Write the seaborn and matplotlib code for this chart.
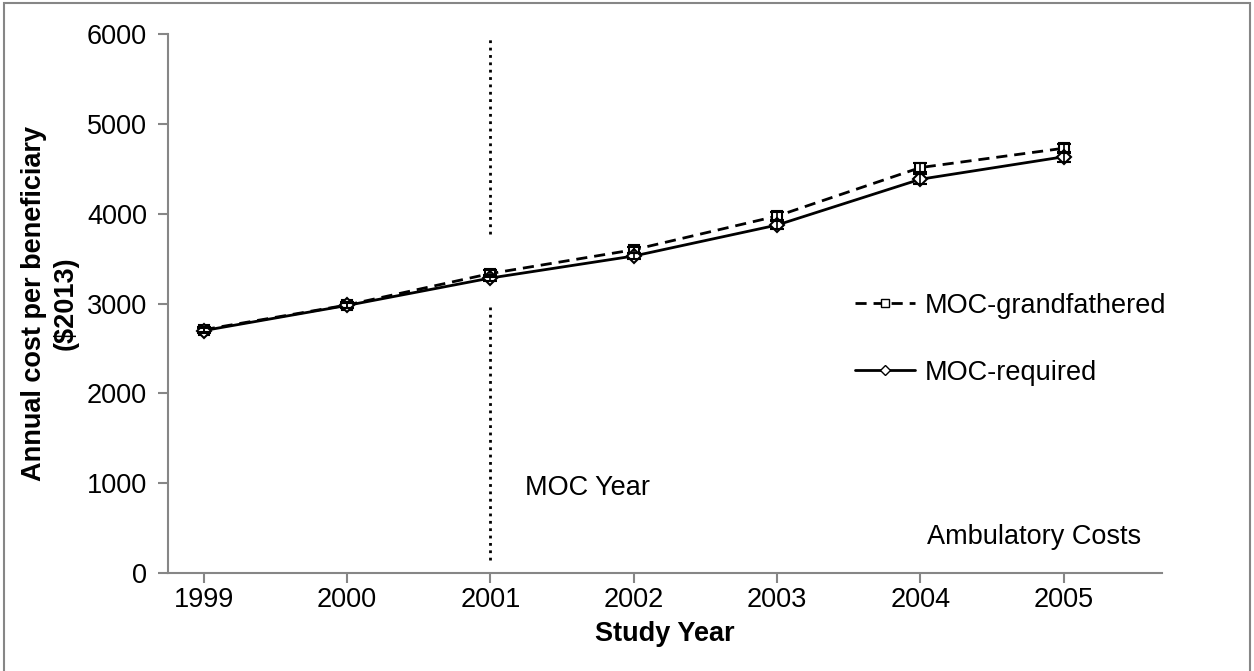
import numpy as np
import pandas as pd
import matplotlib
matplotlib.use("Agg")
import matplotlib.pyplot as plt
import seaborn as sns
from matplotlib.lines import Line2D
from matplotlib.patches import Rectangle

years = [1999, 2000, 2001, 2002, 2003, 2004, 2005]
grandfathered = [2710, 2985, 3335, 3600, 3975, 4515, 4730]
required = [2700, 2980, 3285, 3530, 3875, 4385, 4635]
grand_err = [30, 30, 35, 35, 40, 50, 50]
req_err = [30, 30, 35, 35, 40, 55, 55]
moc_year = 2001

sns.set_theme(style="white")
plt.rcParams["font.family"] = ["Liberation Sans", "DejaVu Sans"]
plt.rcParams["text.color"] = "black"
plt.rcParams["axes.labelcolor"] = "black"

FS = 19.5

df = pd.DataFrame({
    "year": years * 2,
    "cost": grandfathered + required,
    "group": ["MOC-grandfathered"] * 7 + ["MOC-required"] * 7,
})

fig = plt.figure(figsize=(12.54, 6.71), dpi=100)
ax = fig.add_axes([0.134, 0.146, 0.793, 0.803])

sns.lineplot(data=df, x="year", y="cost", style="group", ax=ax, color="black",
             linewidth=2, dashes={"MOC-grandfathered": (4, 2.5), "MOC-required": ""},
             markers={"MOC-grandfathered": "s", "MOC-required": "D"},
             markersize=7, markerfacecolor="white", markeredgecolor="black",
             markeredgewidth=1.5, legend=False)
ax.errorbar(years, grandfathered, yerr=grand_err, fmt="none", ecolor="black",
            elinewidth=1.2, capsize=5, capthick=1.5)
ax.errorbar(years, required, yerr=req_err, fmt="none", ecolor="black",
            elinewidth=1.2, capsize=5, capthick=1.5)

# dotted MOC year line, split where the series pass
ax.plot([moc_year, moc_year], [3780, 5970], color="black", linestyle=":", linewidth=2)
ax.plot([moc_year, moc_year], [145, 2960], color="black", linestyle=":", linewidth=2)

ax.text(moc_year + 0.24, 950, "MOC Year", fontsize=FS, va="center", ha="left")
ax.text(6.54 + 1999, 400, "Ambulatory Costs", fontsize=FS, va="center", ha="right")

ax.set_xlim(1999 - 0.25, 2005 + 0.69)
ax.set_ylim(0, 6000)
ax.set_xticks(years)
ax.set_xticklabels([str(y) for y in years])
ax.set_yticks(range(0, 6001, 1000))
ax.tick_params(axis="both", labelsize=FS, colors="#868686", labelcolor="black",
               direction="out", length=7, width=1.5, bottom=True, left=True)
ax.tick_params(axis="y", pad=8)
ax.tick_params(axis="x", pad=3)
ax.set_xlabel("Study Year", fontsize=FS, fontweight="bold", labelpad=6)
ax.set_ylabel("Annual cost per beneficiary\n($2013)", fontsize=FS, fontweight="bold",
              labelpad=6, linespacing=1.3)
for side in ["top", "right"]:
    ax.spines[side].set_visible(False)
for side in ["left", "bottom"]:
    ax.spines[side].set_color("#868686")
    ax.spines[side].set_linewidth(1.5)

handles = [
    Line2D([], [], color="black", linestyle=(0, (4, 2.5)), linewidth=2, marker="s",
           markersize=6, markerfacecolor="white", markeredgecolor="black"),
    Line2D([], [], color="black", linestyle="-", linewidth=2, marker="D",
           markersize=5, markerfacecolor="white", markeredgecolor="black"),
]
ax.legend(handles, ["MOC-grandfathered", "MOC-required"], loc="center left",
          bbox_to_anchor=(0.691, 0.434), frameon=False, fontsize=FS,
          handlelength=2.2, labelspacing=1.5, handletextpad=0.37,
          borderpad=0, borderaxespad=0)

fig.patches.append(Rectangle((0.003, -0.01), 0.994, 1.005, transform=fig.transFigure,
                             fill=False, edgecolor="#868686", linewidth=1.5))

fig.savefig("out.png", dpi=100)
